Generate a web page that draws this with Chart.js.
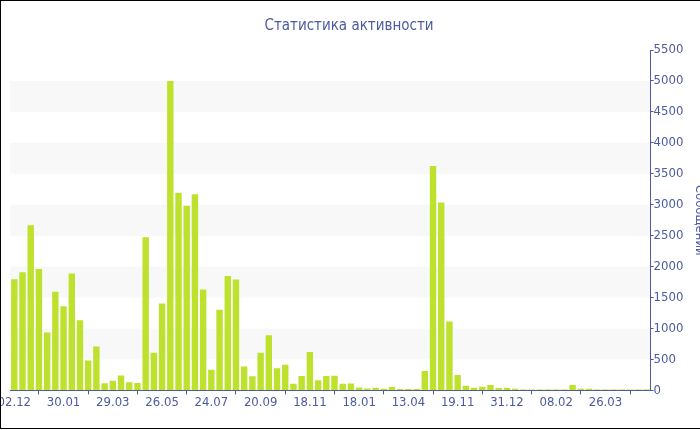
<!DOCTYPE html>
<html>
<head>
<meta charset="utf-8">
<script src="https://cdn.jsdelivr.net/npm/chart.js@4.4.0/dist/chart.umd.min.js"></script>
<style>
    html, body { margin: 0; padding: 0; overflow: hidden; background: #fff; }
    #frame { position: absolute; left: 0; top: 0; width: 760px; height: 429px; border: 1px solid #000; box-sizing: border-box; overflow: hidden; }
    #chart_box { position: absolute; left: -20px; top: 0; }
</style>
</head>
<body>
<div id="frame"><div id="chart_box"><canvas id="chart_canvas" width="740" height="427"></canvas></div></div>
<script>

// dates shown under every 6th bar
var tickLabels = ['02.12', '30.01', '29.03', '26.05', '24.07', '20.09', '18.11',
                  '18.01', '13.04', '19.11', '31.12', '08.02', '26.03'];
var tickEvery = 6;

// messages per bar
var counts = [
    1795, 1910, 2670, 1960, 935, 1595, 1360, 1890, 1135, 485,
    710, 115, 155, 240, 130, 120, 2475, 610, 1405, 5000,
    3195, 2985, 3170, 1630, 335, 1305, 1850, 1790, 385, 228,
    610, 890, 358, 416, 108, 232, 620, 162, 232, 237,
    108, 112, 48, 32, 43, 27, 54, 22, 22, 22,
    313, 3625, 3035, 1115, 248, 75, 43, 59, 88, 38,
    43, 27, 16, 16, 16, 16, 16, 16, 86, 27,
    27, 16, 16, 16, 16, 16, 16, 16
];

var yTicks = { min: 0, max: 5500, step: 250, labelStep: 500 };

var labels = counts.map(function (v, i) {
    return i % tickEvery === 0 ? tickLabels[i / tickEvery] : '';
});

var blue = '#4c5b9f';
var fontFamily = "'DejaVu Sans Condensed', 'Liberation Sans', sans-serif";

// light stripes between every other pair of labelled ticks
var bands = {
    id: 'bands',
    beforeDraw: function (chart) {
        var ctx = chart.ctx, area = chart.chartArea, y = chart.scales.y;
        ctx.save();
        ctx.fillStyle = '#f8f8f8';
        for (var v = yTicks.labelStep; v + yTicks.labelStep <= y.max - yTicks.labelStep; v += 2 * yTicks.labelStep) {
            var top = y.getPixelForValue(v + yTicks.labelStep);
            var bottom = y.getPixelForValue(v);
            ctx.fillRect(area.left, top, area.right - area.left, bottom - top);
        }
        ctx.restore();
    }
};

var ctx = document.getElementById('chart_canvas').getContext('2d');

var chart = new Chart(ctx, {
    type: 'bar',
    data: {
        labels: labels,
        datasets: [{
            data: counts,
            backgroundColor: '#bde12d',
            borderWidth: 0,
            barPercentage: 0.78,
            categoryPercentage: 1
        }]
    },
    options: {
        responsive: false,
        animation: false,
        layout: { padding: { left: 6, right: 10, top: 0, bottom: 18 } },
        plugins: {
            legend: { display: false },
            tooltip: { enabled: false },
            title: {
                display: true,
                text: 'Статистика активности',
                color: blue,
                font: { family: fontFamily, size: 15, weight: 'normal' },
                padding: { top: 16, bottom: 15 }
            }
        },
        scales: {
            x: {
                grid: { display: true, drawOnChartArea: false, tickLength: 4, color: blue },
                border: { color: blue },
                ticks: {
                    autoSkip: false,
                    maxRotation: 0,
                    padding: 0,
                    color: blue,
                    font: { family: fontFamily, size: 13 },
                    callback: function (value, index) {
                        return labels[index] ? labels[index] : null;
                    }
                },
                afterFit: function (scale) {
                    // keep the plot's left edge where the reference has it
                    scale.paddingLeft = 29.2;
                }
            },
            y: {
                position: 'right',
                min: yTicks.min,
                max: yTicks.max,
                grid: { drawOnChartArea: false, tickLength: 3, color: blue },
                border: { color: blue },
                ticks: {
                    stepSize: yTicks.step,
                    padding: 0,
                    color: blue,
                    font: { family: fontFamily, size: 13 },
                    callback: function (value) {
                        return value % yTicks.labelStep === 0 ? String(value) : '';
                    }
                },
                title: {
                    display: true,
                    text: 'Сообщений',
                    color: blue,
                    font: { family: fontFamily, size: 13 },
                    padding: { top: 4, bottom: 0 }
                },
                afterFit: function (scale) {
                    scale.width = 60.4;
                }
            }
        }
    },
    plugins: [bands]
});

</script>
</body>
</html>
